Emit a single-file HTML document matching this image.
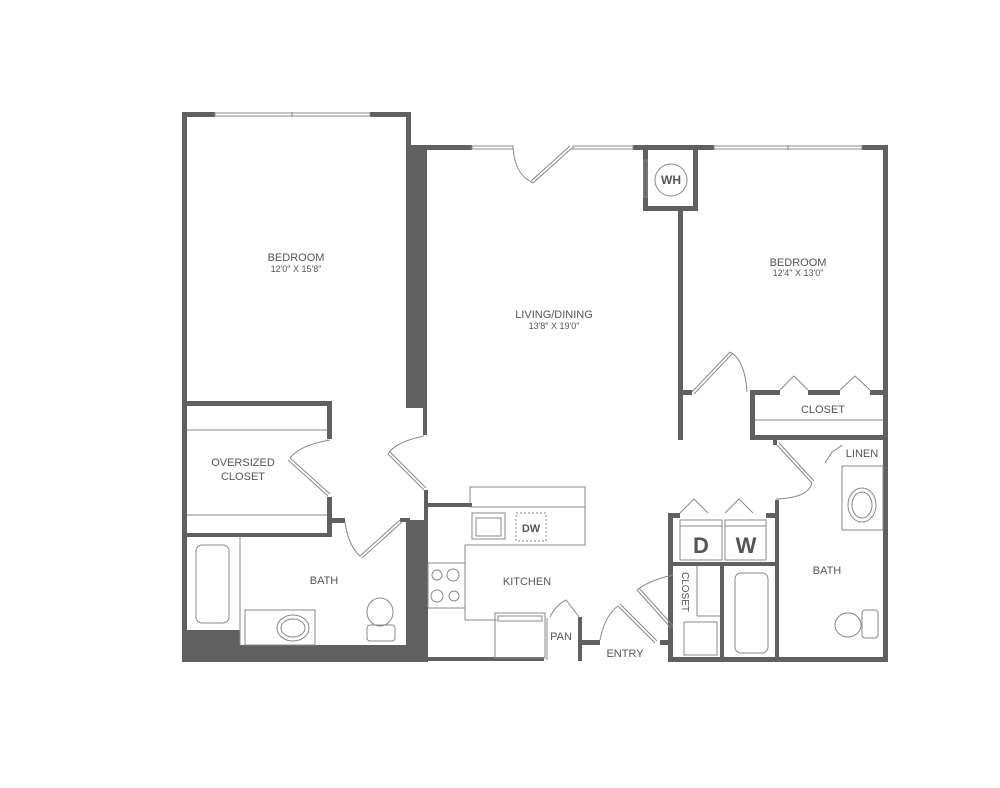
<!DOCTYPE html>
<html><head><style>
html,body{margin:0;padding:0;background:#fff;width:1000px;height:788px;overflow:hidden}
svg text{font-family:"Liberation Sans",sans-serif;fill:#555;text-anchor:middle}
</style></head><body>
<svg width="1000" height="788" viewBox="0 0 1000 788" xmlns="http://www.w3.org/2000/svg">
<g fill="#606060">
<!-- left bedroom -->
<rect x="182" y="112" width="33" height="5"/>
<rect x="370" y="112" width="41" height="5"/>
<rect x="182" y="112" width="5" height="550"/>
<rect x="406" y="112" width="5" height="35"/>
<rect x="406" y="145" width="21" height="263"/>
<rect x="423" y="145" width="4" height="290"/>
<rect x="424" y="490" width="4" height="170"/>
<rect x="406" y="520" width="22" height="142"/>
<!-- living top -->
<rect x="406" y="145" width="66" height="5"/>
<rect x="633" y="145" width="81" height="5"/>
<rect x="862" y="145" width="26" height="5"/>
<rect x="883" y="145" width="5" height="517"/>
<!-- WH -->
<rect x="643" y="145" width="5" height="65"/>
<rect x="643" y="206" width="55" height="5"/>
<rect x="693" y="145" width="5" height="65"/>
<rect x="678" y="206" width="5" height="234"/>
<!-- right bedroom bottom / closet -->
<rect x="678" y="390" width="14" height="5"/>
<rect x="750" y="390" width="30" height="5"/>
<rect x="808" y="390" width="32" height="5"/>
<rect x="870" y="390" width="15" height="5"/>
<rect x="750" y="390" width="5" height="49"/>
<rect x="750" y="435" width="135" height="5"/>
<rect x="773" y="435" width="4" height="10"/>
<rect x="775" y="500" width="4" height="162"/>
<!-- laundry -->
<rect x="668" y="513" width="5" height="149"/>
<rect x="668" y="513" width="12" height="5"/>
<rect x="766" y="513" width="12" height="5"/>
<rect x="668" y="562" width="110" height="4"/>
<rect x="720" y="562" width="4" height="100"/>
<rect x="668" y="657" width="220" height="5"/>
<!-- oversized closet -->
<rect x="182" y="401" width="150" height="5"/>
<rect x="327" y="401" width="5" height="38"/>
<rect x="327" y="497" width="5" height="40"/>
<rect x="182" y="533" width="150" height="4"/>
<rect x="327" y="518" width="18" height="5"/>
<rect x="400" y="518" width="10" height="4"/>
<!-- bottom left thick -->
<rect x="182" y="630" width="58" height="32"/>
<rect x="182" y="645" width="246" height="17"/>
<!-- kitchen -->
<rect x="424" y="503" width="48" height="4"/>
<rect x="424" y="657" width="120" height="4"/>
<rect x="578" y="617" width="4" height="44"/>
<rect x="578" y="640" width="22" height="5"/>
<rect x="660" y="640" width="13" height="5"/>
</g>
<g fill="none" stroke="#888" stroke-width="1">
<!-- windows -->
<rect x="215" y="113" width="155" height="3"/><line x1="292" y1="112" x2="292" y2="117"/>
<rect x="472" y="146" width="41" height="3"/>
<rect x="573" y="146" width="60" height="3"/>
<rect x="714" y="146" width="148" height="3"/><line x1="788" y1="145" x2="788" y2="150"/>
<rect x="644" y="160" width="3" height="37"/>
<!-- doors -->
<path d="M513,148 Q515,175 533,183 M533,183 L572,148 M531,181 L570,146"/>
<path d="M747,392 Q745,360 730,352 M692,392 L730,352 M694,394 L732,354"/>
<path d="M330,440 Q300,445 290,458 M290,458 L330,494 M288,460 L328,496"/>
<path d="M424,436 Q395,442 388,454 M388,454 L424,490 M390,452 L426,488"/>
<path d="M345,522 Q348,545 360,556 M360,556 L400,520 M362,558 L402,522"/>
<path d="M777,445 L812,483 M779,443 L814,481 M812,483 Q808,498 776,499"/>
<path d="M825,463 L832,452 Q840,447 842,445"/>
<path d="M673,575 Q650,580 637,590 M637,590 L671,628 M639,588 L673,626"/>
<path d="M600,640 Q605,615 618,606 M618,606 L655,643 M620,604 L657,641"/>
<path d="M580,618 L566,600 Q556,605 550,617"/>
<!-- bifolds -->
<path d="M780,390 L794,376 L808,390 M840,390 L855,376 L870,390"/>
<path d="M680,513 L694,499 L708,513 M725,513 L739,499 L753,513"/>
<!-- closets inner -->
<line x1="187" y1="430" x2="327" y2="430"/>
<line x1="187" y1="515" x2="327" y2="515"/>
<line x1="755" y1="420" x2="883" y2="420"/>
<rect x="680" y="520" width="42" height="40"/><line x1="680" y1="526" x2="722" y2="526"/>
<rect x="725" y="520" width="41" height="40"/><line x1="725" y1="526" x2="766" y2="526"/>
<!-- WH -->
<circle cx="671" cy="180" r="16"/>
<!-- linen / sink -->
<line x1="842" y1="466" x2="883" y2="466"/>
<rect x="842" y="466" width="41" height="64"/>
<ellipse cx="862" cy="505" rx="14" ry="17"/><ellipse cx="862" cy="505" rx="10" ry="13"/>
<!-- hall closet -->
<line x1="697" y1="566" x2="697" y2="616"/><line x1="697" y1="616" x2="720" y2="616"/>
<rect x="684" y="622" width="33" height="33"/>
<!-- tubs -->
<rect x="735" y="573" width="33" height="80" rx="6"/>
<rect x="196" y="545" width="33" height="78" rx="6"/>
<line x1="240" y1="537" x2="240" y2="645"/>
<!-- left bath sink -->
<rect x="245" y="610" width="70" height="35"/>
<ellipse cx="293" cy="628" rx="16" ry="13"/><ellipse cx="293" cy="628" rx="12" ry="9"/>
<!-- toilets -->
<ellipse cx="380" cy="612" rx="13" ry="14"/><rect x="367" y="625" width="28" height="16" rx="3"/>
<ellipse cx="848" cy="625" rx="13" ry="12"/><rect x="862" y="610" width="16" height="28" rx="3"/>
<!-- kitchen -->
<path d="M470,503 L470,487 L585,487 L585,545 L465,545 L465,620 L497,620"/>
<line x1="470" y1="507" x2="585" y2="507"/>
<rect x="472" y="513" width="33" height="26"/><rect x="476" y="518" width="25" height="18"/>
<rect x="516" y="513" width="30" height="28" stroke-dasharray="2,2"/>
<rect x="428" y="563" width="37" height="45"/>
<circle cx="437" cy="575" r="5"/><circle cx="453" cy="575" r="6"/><circle cx="437" cy="596" r="6"/><circle cx="454" cy="596" r="5"/>
<rect x="495" y="613" width="50" height="45"/><rect x="498" y="616" width="44" height="5"/>
<line x1="547" y1="618" x2="547" y2="660"/>
</g>
<g font-size="11">
<text x="296" y="261">BEDROOM</text><text x="296" y="272" font-size="9">12'0" X 15'8"</text>
<text x="554" y="318">LIVING/DINING</text><text x="554" y="329" font-size="9">13'8" X 19'0"</text>
<text x="798" y="266">BEDROOM</text><text x="798" y="276" font-size="9">12'4" X 13'0"</text>
<text x="823" y="413">CLOSET</text>
<text x="862" y="457">LINEN</text>
<text x="243" y="466">OVERSIZED</text><text x="243" y="480">CLOSET</text>
<text x="324" y="584">BATH</text>
<text x="527" y="585">KITCHEN</text>
<text x="561" y="640">PAN</text>
<text x="625" y="657">ENTRY</text>
<text x="827" y="574">BATH</text>
<text x="671" y="184" font-size="12" font-weight="bold">WH</text>
<text x="531" y="532" font-weight="bold">DW</text>
<text x="701" y="553" font-size="22" font-weight="bold" fill="#555">D</text>
<text x="746" y="553" font-size="22" font-weight="bold" fill="#555">W</text>
<text transform="translate(682,592) rotate(90)" font-size="10">CLOSET</text>
</g>
</svg>
</body></html>
